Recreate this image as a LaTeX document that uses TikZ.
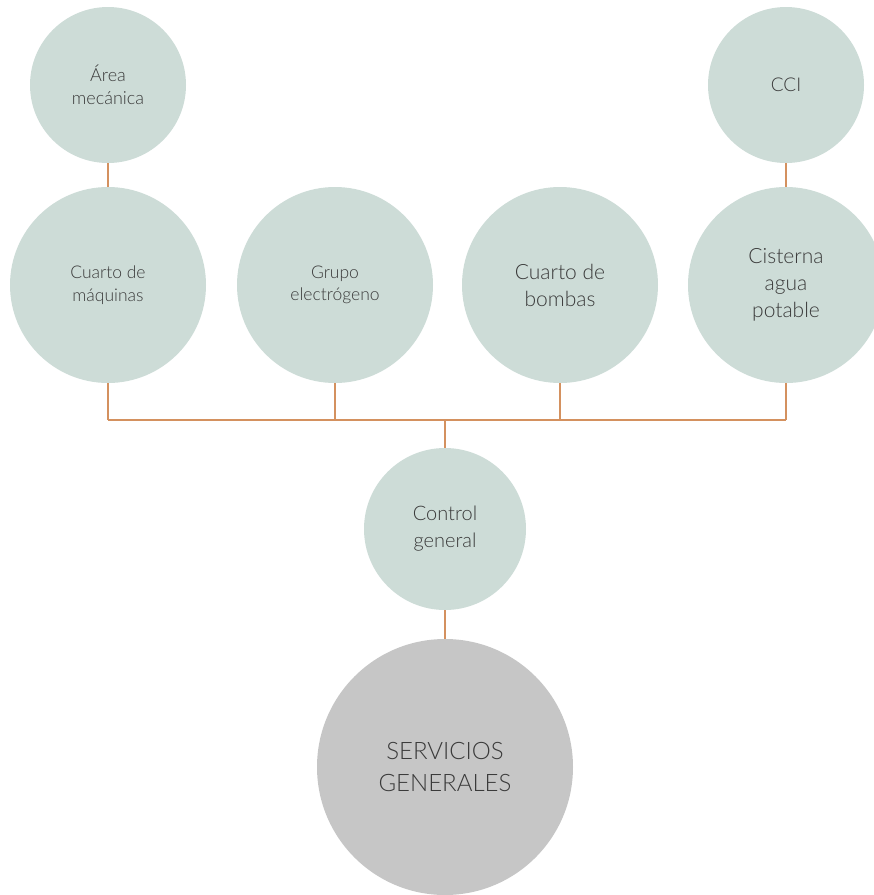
\documentclass[tikz,border=0pt]{standalone}
\usepackage{fontspec}
\setmainfont{Lato Light}
\definecolor{sage}{HTML}{CDDCD7}
\definecolor{greyfill}{HTML}{C6C6C6}
\definecolor{conn}{HTML}{D4915F}
\definecolor{txt}{HTML}{3A3A3A}
\tikzset{
  bubble/.style={circle, fill=sage, draw=none, inner sep=0pt, align=center, text=txt},
  bigbubble/.style={circle, fill=greyfill, draw=none, inner sep=0pt, align=center, text=txt},
  link/.style={draw=conn, line width=1.6pt}
}
\begin{document}
\begin{tikzpicture}[x=1pt,y=-1pt]
\useasboundingbox (0,0) rectangle (874,895);
\node[bubble, minimum size=156pt, font=\fontsize{18}{23}\selectfont] (am) at (108,85) {Área\\mecánica};
\node[bubble, minimum size=156pt, font=\fontsize{19}{24}\selectfont] (cci) at (786,85) {CCI};
\node[bubble, minimum size=196pt, font=\fontsize{17.5}{22.5}\selectfont] (cm) at (108,285) {Cuarto de\\máquinas};
\node[bubble, minimum size=196pt, font=\fontsize{17.5}{22.5}\selectfont] (ge) at (335,285) {Grupo\\electrógeno};
\node[bubble, minimum size=196pt, font=\fontsize{21}{27}\selectfont] (cb) at (560,285) {Cuarto de\\bombas};
\node[bubble, minimum size=196pt, font=\fontsize{21}{27}\selectfont] (cis) at (786,285) {Cisterna\\agua\\potable};
\node[bubble, minimum size=162pt, font=\fontsize{20}{27}\selectfont] (cg) at (445,529) {Control\\general};
\node[bigbubble, minimum size=256pt, font=\fontsize{24}{32}\selectfont] (sg) at (445,767) {SERVICIOS\\GENERALES};
\coordinate (bus) at (445,420);
\draw[link] (am.south) -- (cm.north);
\draw[link] (cci.south) -- (cis.north);
\draw[link] (cm.south) -- (cm.south |- bus);
\draw[link] (ge.south) -- (ge.south |- bus);
\draw[link] (cb.south) -- (cb.south |- bus);
\draw[link] (cis.south) -- (cis.south |- bus);
\draw[link] (cm.south |- bus) -- (cis.south |- bus);
\draw[link] (bus) -- (cg.north);
\draw[link] (cg.south) -- (sg.north);
\end{tikzpicture}
\end{document}
